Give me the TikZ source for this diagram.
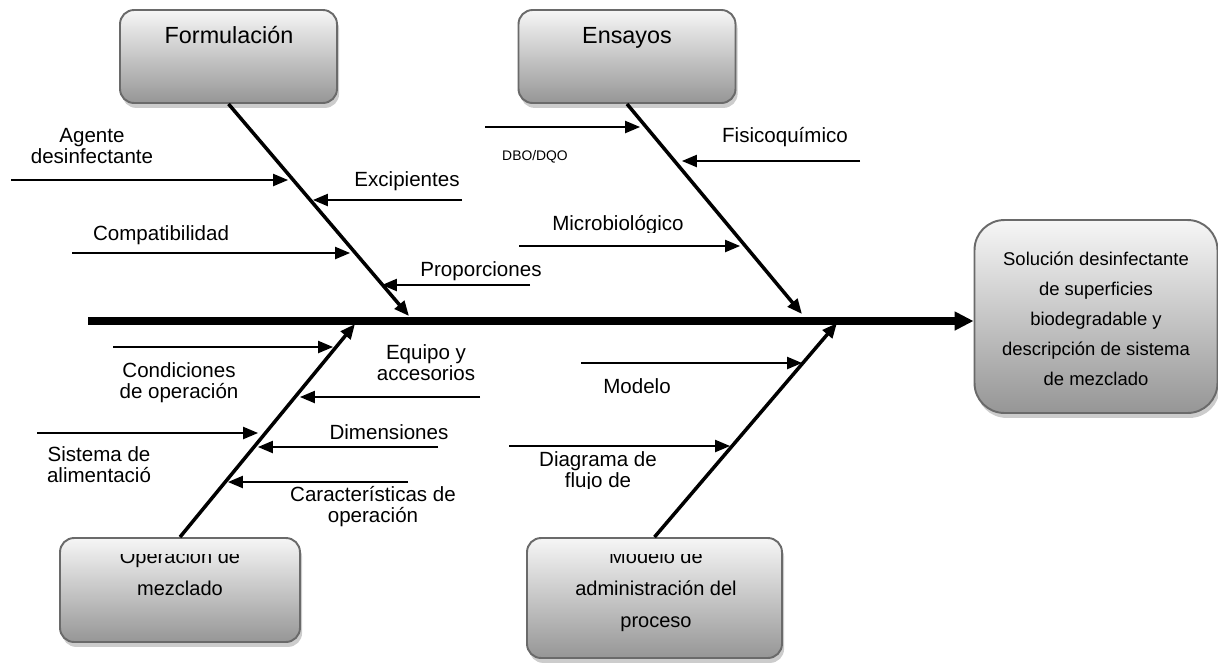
\documentclass[tikz,border=0pt]{standalone}
\usepackage{fontspec}
\setmainfont{Liberation Sans}
\usepackage{xcolor}
\usepackage{tikz}
\usetikzlibrary{
	arrows.meta,
	shadows,
	positioning
}
\definecolor{BoxEdge}{RGB}{106,106,106}
\definecolor{BoxTop}{RGB}{246,246,246}
\definecolor{BoxBottom}{RGB}{150,150,150}

\tikzset{
	causebox/.style={draw=BoxEdge, line width=1.1pt, rounded corners=8pt,
		top color=BoxTop, bottom color=BoxBottom,
		drop shadow={shadow xshift=1.2pt, shadow yshift=-2.8pt, fill=gray!45, opacity=0.9}},
	spine/.style={line width=4pt, -{Triangle[length=10.8pt, width=10.2pt]}},
	bone/.style={line width=2pt, -{Triangle[length=8.5pt, width=7pt]}},
	cause/.style={line width=0.75pt, -{Triangle[length=8.5pt, width=7pt]}},
	lbl/.style={anchor=base, align=center, inner sep=0pt, font=\fontsize{11.7}{11.4}\selectfont},
	boxlbl/.style={anchor=base, align=center, inner sep=0pt, font=\fontsize{11.4}{18.2}\selectfont}
}

\begin{document}
\begin{tikzpicture}[x=0.02cm, y=-0.02cm]
	\useasboundingbox (0,0) rectangle (1218,664);

	% boxes
	\node[causebox, minimum width=4.34cm, minimum height=1.86cm] (formulacion) at (228.5,56.5) {};
	\node[causebox, minimum width=4.34cm, minimum height=1.86cm] (ensayos) at (627,56.5) {};
	\node[causebox, rounded corners=17pt, minimum width=4.86cm, minimum height=3.86cm] (solucion) at (1096,316.5) {};
	\node[causebox, minimum width=4.8cm, minimum height=2.08cm] (operacion) at (180,590) {};
	\node[causebox, minimum width=5.1cm, minimum height=2.4cm] (modelo) at (654.5,598) {};

	% (multi-line nodes: base = last line)
	\node[anchor=base, inner sep=0pt, font=\fontsize{13.3}{16}\selectfont] (formulacion title) at (229,43) {Formulación};
	\node[anchor=base, inner sep=0pt, font=\fontsize{13.3}{16}\selectfont] (ensayos title) at (627,43) {Ensayos};
	\node[anchor=base, align=center, inner sep=0pt, font=\fontsize{10.5}{17}\selectfont] (solucion title) at (1096,385)
		{Solución desinfectante\\de superficies\\biodegradable y\\descripción de sistema\\de mezclado};
	\begin{scope}
		\clip ([yshift=-0.34cm]operacion.north west) rectangle (operacion.south east);
		\node[boxlbl] (operacion title) at (180,595) {Operación de\\mezclado};
	\end{scope}
	\begin{scope}
		\clip ([yshift=-0.34cm]modelo.north west) rectangle (modelo.south east);
		\node[boxlbl] (modelo title) at (656,627) {Modelo de\\administración del\\proceso};
	\end{scope}

	% spine and bones
	\coordinate (tail) at (88,321);
	\coordinate (formulacion head) at (409,316);
	\coordinate (ensayos head) at (802,314);
	\coordinate (operacion head) at (355,324);
	\coordinate (modelo head) at (837,323);
	\draw[spine] (tail) -- (tail -| solucion.west);
	\draw[bone] (formulacion.south) -- (formulacion head);
	\draw[bone] (ensayos.south) -- (ensayos head);
	\draw[bone] (operacion.north) -- (operacion head);
	\draw[bone] (modelo.north) -- (modelo head);

	% Formulacion
	\coordinate (agente) at (11,180);
	\coordinate (agente tip) at (288,180);
	\coordinate (excipientes) at (462,200);
	\coordinate (excipientes tip) at (313,200);
	\coordinate (compatibilidad) at (72,253);
	\coordinate (compatibilidad tip) at (350,253);
	\coordinate (proporciones) at (530,285);
	\coordinate (proporciones tip) at (382,285);
	\draw[cause] (agente) -- (agente tip);
	\draw[cause] (excipientes) -- (excipientes tip);
	\draw[cause] (compatibilidad) -- (compatibilidad tip);
	\draw[cause] (proporciones) -- (proporciones tip);
	\node[lbl] (agente lbl) at (92,163) {Agente\\desinfectante};
	\node[lbl] (excipientes lbl) at (407,186) {Excipientes};
	\node[lbl] (compatibilidad lbl) at (161,240) {Compatibilidad};
	\node[lbl] (proporciones lbl) at (481,276) {Proporciones};

	% Ensayos
	\coordinate (dbo) at (485,127);
	\coordinate (dbo tip) at (640,127);
	\coordinate (fisico) at (860,161);
	\coordinate (fisico tip) at (682,161);
	\coordinate (micro) at (519,246);
	\coordinate (micro tip) at (740,246);
	\draw[cause] (dbo) -- (dbo tip);
	\draw[cause] (fisico) -- (fisico tip);
	\draw[cause] (micro) -- (micro tip);
	\node[lbl, font=\fontsize{7.9}{9}\selectfont] (dbo lbl) at (535,160) {DBO/DQO};
	\node[lbl] (fisico lbl) at (785,142) {Fisicoquímico};
	\begin{scope}
		\clip (540,200) rectangle (700,232.5);
		\node[lbl] (micro lbl) at (618,230) {Microbiológico};
	\end{scope}

	% Operacion de mezclado
	\coordinate (condiciones) at (113,347);
	\coordinate (condiciones tip) at (333,347);
	\coordinate (equipo) at (480,397);
	\coordinate (equipo tip) at (300,397);
	\coordinate (sistema) at (37,433);
	\coordinate (sistema tip) at (258,433);
	\coordinate (dimensiones) at (438,447);
	\coordinate (dimensiones tip) at (258,447);
	\coordinate (caracteristicas) at (408,482);
	\coordinate (caracteristicas tip) at (228,482);
	\draw[cause] (condiciones) -- (condiciones tip);
	\draw[cause] (equipo) -- (equipo tip);
	\draw[cause] (sistema) -- (sistema tip);
	\draw[cause] (dimensiones) -- (dimensiones tip);
	\draw[cause] (caracteristicas) -- (caracteristicas tip);
	\node[lbl] (condiciones lbl) at (179,398) {Condiciones\\de operación};
	\node[lbl] (equipo lbl) at (426,380) {Equipo y\\accesorios};
	\node[lbl] (sistema lbl) at (99,482) {Sistema de\\alimentació};
	\node[lbl] (dimensiones lbl) at (389,439) {Dimensiones};
	\node[lbl] (caracteristicas lbl) at (373,522) {Características de\\operación};

	% Modelo de administracion
	\coordinate (modelo cause) at (581,363);
	\coordinate (modelo cause tip) at (802,363);
	\coordinate (diagrama) at (509,446);
	\coordinate (diagrama tip) at (730,446);
	\draw[cause] (modelo cause) -- (modelo cause tip);
	\draw[cause] (diagrama) -- (diagrama tip);
	\node[lbl] (modelo lbl) at (637,393) {Modelo};
	\begin{scope}
		\clip (520,440) rectangle (680,488.5);
		\node[lbl] (diagrama lbl) at (598,487) {Diagrama de\\flujo de};
	\end{scope}
\end{tikzpicture}
\end{document}
